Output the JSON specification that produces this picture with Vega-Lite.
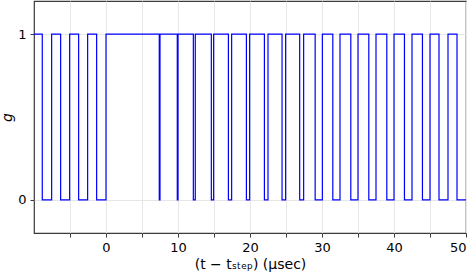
{
  "$schema": "https://vega.github.io/schema/vega-lite/v6.json",
  "autosize": "none",
  "width": 432,
  "height": 232,
  "padding": {"left": 34, "top": 1, "right": 9, "bottom": 44},
  "background": "white",
  "config": {
    "view": {"stroke": "#3a3a3a", "strokeWidth": 1.2},
    "axis": {
      "domain": false,
      "gridColor": "#e6e6e6",
      "gridWidth": 1,
      "tickColor": "#3a3a3a",
      "tickSize": 4,
      "labelFont": "DejaVu Sans",
      "labelFontSize": 13,
      "labelColor": "black",
      "titleFont": "DejaVu Sans",
      "titleFontSize": 13,
      "titleFontWeight": "normal",
      "titleColor": "black"
    }
  },
  "data": {
    "values": [
      {"t": -10, "g": 1}, {"t": -8.85, "g": 0}, {"t": -7.55, "g": 1}, {"t": -6.3, "g": 0},
      {"t": -5.05, "g": 1}, {"t": -3.8, "g": 0}, {"t": -2.55, "g": 1}, {"t": -1.3, "g": 0},
      {"t": 0, "g": 1}, {"t": 7.4, "g": 0}, {"t": 7.5, "g": 1}, {"t": 9.9, "g": 0},
      {"t": 10, "g": 1}, {"t": 12.13, "g": 0}, {"t": 12.4, "g": 1}, {"t": 14.63, "g": 0},
      {"t": 14.95, "g": 1}, {"t": 17.0, "g": 0}, {"t": 17.45, "g": 1}, {"t": 19.5, "g": 0},
      {"t": 19.95, "g": 1}, {"t": 22.0, "g": 0}, {"t": 22.5, "g": 1}, {"t": 24.45, "g": 0},
      {"t": 24.95, "g": 1}, {"t": 26.9, "g": 0}, {"t": 27.45, "g": 1}, {"t": 29.05, "g": 0},
      {"t": 30.05, "g": 1}, {"t": 31.5, "g": 0}, {"t": 32.5, "g": 1}, {"t": 34.0, "g": 0},
      {"t": 35.0, "g": 1}, {"t": 36.5, "g": 0}, {"t": 37.5, "g": 1}, {"t": 39.0, "g": 0},
      {"t": 40.0, "g": 1}, {"t": 41.45, "g": 0}, {"t": 42.5, "g": 1}, {"t": 43.95, "g": 0},
      {"t": 45.0, "g": 1}, {"t": 46.25, "g": 0}, {"t": 47.5, "g": 1}, {"t": 48.75, "g": 0},
      {"t": 50, "g": 0}
    ]
  },
  "mark": {"type": "line", "interpolate": "step-after", "color": "#0000ff", "strokeWidth": 1.2, "clip": true},
  "encoding": {
    "x": {
      "field": "t", "type": "quantitative",
      "scale": {"domain": [-10, 50], "nice": false, "zero": false},
      "axis": {
        "values": [-5, 0, 5, 10, 15, 20, 25, 30, 35, 40, 45, 50],
        "labelExpr": "datum.value % 10 === 0 ? datum.label : ''",
        "title": "(t − tₛₜₑₚ) (μsec)",
        "titleFontSize": 14,
        "titlePadding": 3,
        "labelPadding": 4
      }
    },
    "y": {
      "field": "g", "type": "quantitative",
      "scale": {"domain": [-0.2, 1.2], "nice": false, "zero": false},
      "axis": {
        "values": [0, 1],
        "format": "d",
        "title": "g",
        "titleFontSize": 14,
        "titleFontStyle": "italic",
        "titlePadding": 3,
        "labelPadding": 4
      }
    }
  }
}
